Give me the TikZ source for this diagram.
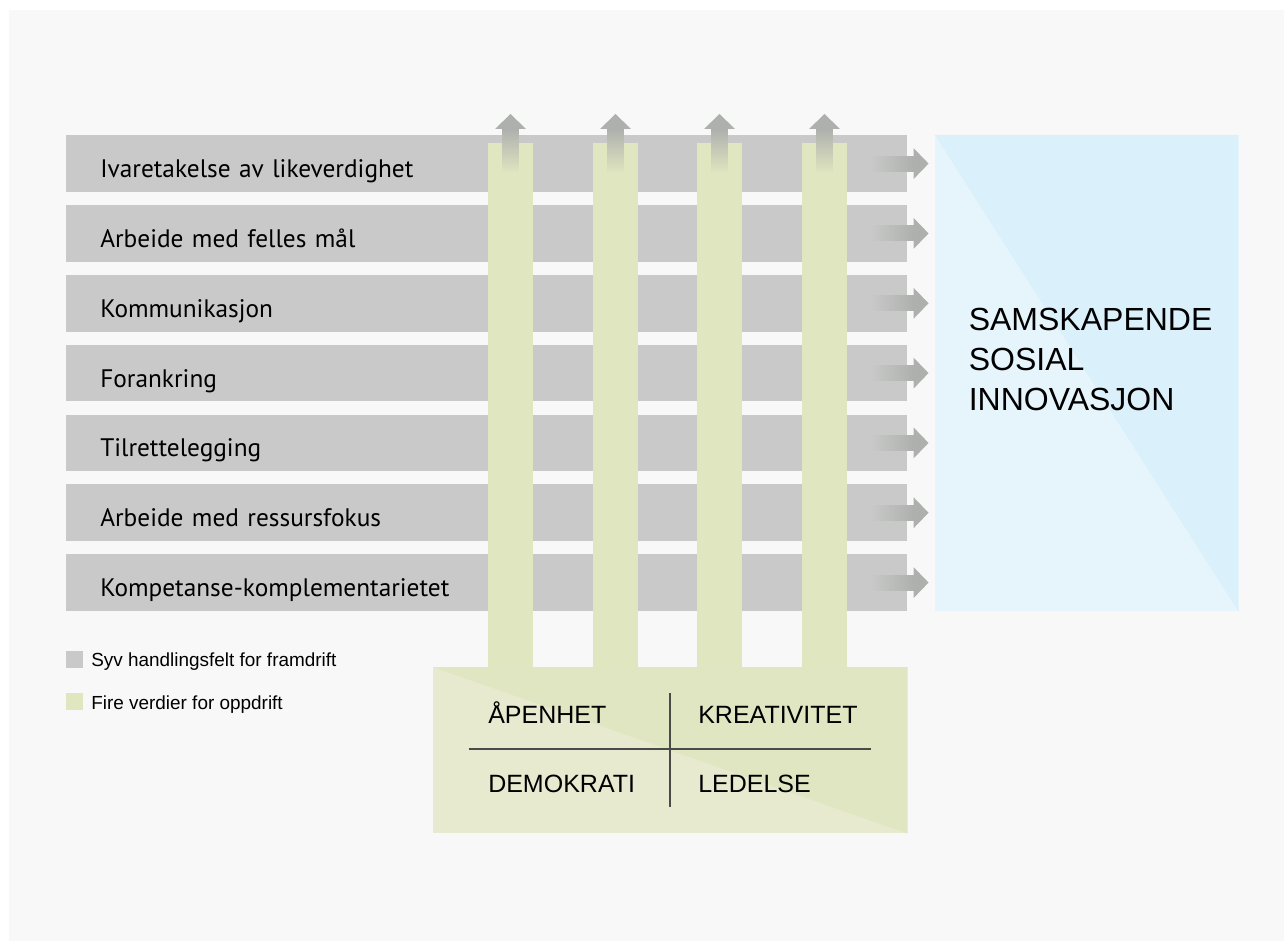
\documentclass[tikz,border=0pt]{standalone}
\usepackage{fontspec}
\setmainfont{PT Sans}
\newfontfamily\helv{Liberation Sans}
\usetikzlibrary{calc}
\definecolor{panel}{HTML}{F8F8F8}
\definecolor{bargray}{HTML}{C8C9C8}
\definecolor{pillar}{HTML}{E0E6C0}
\definecolor{arrowgray}{HTML}{AEB0AE}
\definecolor{bluedark}{HTML}{DAF0FB}
\definecolor{bluelight}{HTML}{E6F5FC}
\definecolor{greendark}{HTML}{E0E6C1}
\definecolor{greenlight}{HTML}{E7EACF}
\definecolor{gridline}{HTML}{4A4A48}
\tikzset{
  barbox/.style={fill=bargray, draw=none, anchor=north west, minimum width=630.75pt,
    minimum height=42.5pt, inner xsep=25.5pt, inner ysep=0pt, text width=579.75pt,
    text height=21pt, text depth=0pt,
    align=left, font=\fontsize{19}{21}\selectfont, text=black},
  pillarbox/.style={fill=pillar, draw=none},
  valtext/.style={anchor=base west, inner sep=0pt, font=\helv\fontsize{18.75}{22}\selectfont},
  legtext/.style={anchor=base west, inner sep=0pt, font=\helv\fontsize{14.2}{16}\selectfont},
  gridrule/.style={draw=gridline, line width=1.3pt}
}
\begin{document}
\begin{tikzpicture}[x=0.75pt,y=-0.75pt]
\useasboundingbox (0,0) rectangle (1284,941);
\fill[white] (0,0) rectangle (1284,941);
\fill[panel] (9,10) rectangle (1284,941);

% seven action fields
\foreach \i/\t in {1/Ivaretakelse av likeverdighet,2/Arbeide med felles mål,3/Kommunikasjon,4/Forankring,5/Tilrettelegging,6/Arbeide med ressursfokus,7/Kompetanse-komplementarietet}{
  \node[barbox] (bar\i) at (66,{135+69.83*(\i-1)}) {\t};
}

% four value pillars
\foreach \j/\cx in {1/510.5,2/615.5,3/719.5,4/824.5}{
  \coordinate (pt\j) at (\cx,143);
  \fill[pillarbox] ($(pt\j)+(-22.5,0)$) rectangle ($(pt\j)+(22.5,524)$);
  \shade[top color=arrowgray, bottom color=pillar] ($(pt\j)+(-8,-14)$) rectangle ($(pt\j)+(8,30)$);
  \fill[arrowgray] ($(pt\j)+(-15.5,-14)$) -- ($(pt\j)+(0,-29)$) -- ($(pt\j)+(15.5,-14)$) -- cycle;
}

% arrows to the right
\foreach \i in {1,...,7}{
  \coordinate (ra\i) at ($(bar\i.east)+(6,0)$);
  \shade[left color=bargray, right color=arrowgray] ($(ra\i)+(-43,-7.5)$) rectangle ($(ra\i)+(0.5,7.5)$);
  \fill[arrowgray] ($(ra\i)+(0,-15.5)$) -- ($(ra\i)+(15,0)$) -- ($(ra\i)+(0,15.5)$) -- cycle;
}

% result box
\node[fill=bluelight, draw=none, anchor=north west, minimum width=227.25pt, minimum height=357pt, inner sep=0pt] (goal) at (935,135) {};
\fill[bluedark] (goal.north west) -- (goal.north east) -- (goal.south east) -- cycle;
\node[anchor=north west, inner sep=0pt, align=left, font=\helv\fontsize{24}{30}\selectfont] (goaltext) at (968.5,307.5) {SAMSKAPENDE\\SOSIAL\\INNOVASJON};

% values box
\node[fill=greenlight, draw=none, anchor=north west, minimum width=355.5pt, minimum height=124.5pt, inner sep=0pt] (values) at (433,667) {};
\fill[greendark] (values.north west) -- (values.north east) -- (values.south east) -- cycle;
\coordinate (vt) at (670,693);
\coordinate (vb) at (670,807);
\coordinate (hl) at (469,749);
\coordinate (hr) at (871,749);
\draw[gridrule] (vt) -- (vb);
\draw[gridrule] (hl) -- (hr);
\node[valtext] (v1) at (488,723) {ÅPENHET};
\node[valtext] (v2) at (698,723) {KREATIVITET};
\node[valtext] (v3) at (488,792) {DEMOKRATI};
\node[valtext] (v4) at (698,792) {LEDELSE};

% legend
\node[fill=bargray, minimum size=12.75pt, inner sep=0pt, anchor=north west] (lg1) at (66,651) {};
\node[legtext] (lt1) at (91,666) {Syv handlingsfelt for framdrift};
\node[fill=pillar, minimum size=12.5pt, inner sep=0pt, anchor=north west] (lg2) at (66,693) {};
\node[legtext] (lt2) at (91,709) {Fire verdier for oppdrift};
\end{tikzpicture}
\end{document}
